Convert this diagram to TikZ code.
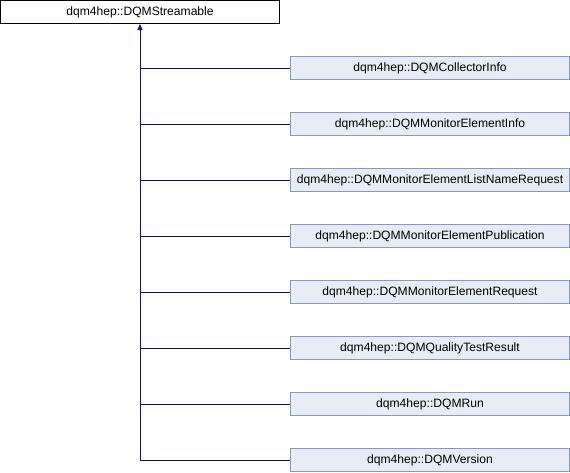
\documentclass[tikz,border=0pt]{standalone}
\usepackage{fontspec}
\setmainfont{Liberation Sans}
\usetikzlibrary{arrows.meta}
\definecolor{boxfill}{HTML}{E8ECF5}
\definecolor{boxline}{HTML}{8497CD}
\definecolor{edgeline}{HTML}{10109A}

\begin{document}
\begin{tikzpicture}[x=1pt,y=-1pt,
	base/.style={draw=black,fill=white,line width=1pt,minimum width=279pt,
		minimum height=23pt,inner sep=0pt,font=\fontsize{12.1}{14}\selectfont},
	derived/.style={base,draw=boxline,fill=boxfill},
	edge/.style={draw=edgeline,line width=1pt}]
		\useasboundingbox (0,0) rectangle (570,472);
		\node[base] (streamable) at (140,12) {dqm4hep::DQMStreamable};
		\foreach \i/\n in
		{
			1/CollectorInfo, 2/MonitorElementInfo,
			3/MonitorElementListNameRequest, 4/MonitorElementPublication,
			5/MonitorElementRequest, 6/QualityTestResult,
			7/Run, 8/Version
		}
		{
			\node[derived] (c\i) at (430,{12+56*\i}) {dqm4hep::DQM\n};
			\draw[edge] (c\i.west) -- (c\i.west -| streamable.south);
		}
		\draw[edge,-{Triangle[width=5pt,length=6pt]}]
		(c8.west -| streamable.south) -- (streamable.south);
		\end{tikzpicture}
\end{document}
